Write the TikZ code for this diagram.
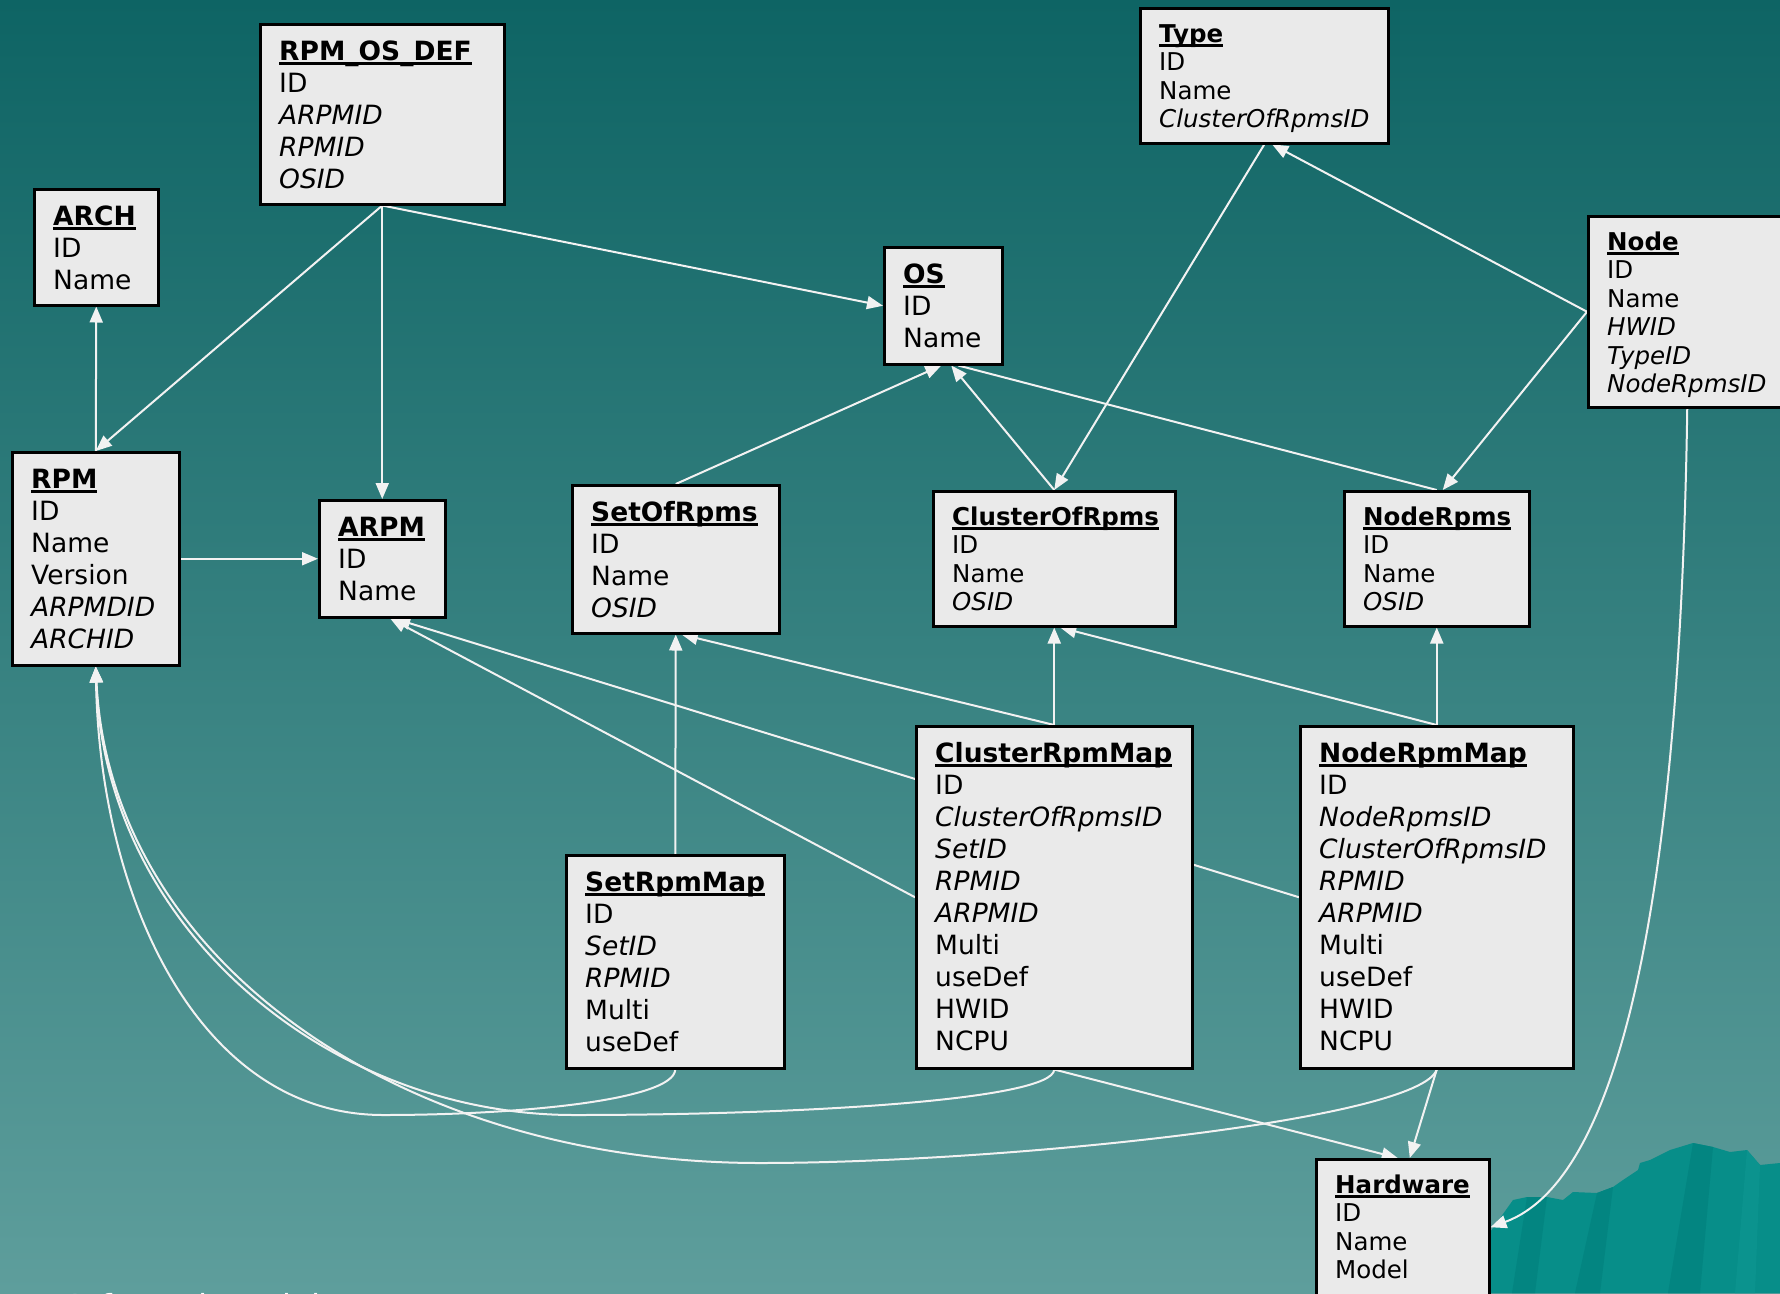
\documentclass[tikz,border=0pt]{standalone}
\usepackage{fontspec}
\setmainfont{DejaVu Sans}
\usetikzlibrary{arrows.meta,calc}

\definecolor{bgtop}{HTML}{0E6464}
\definecolor{bgbottom}{HTML}{5E9E9C}
\definecolor{boxgray}{HTML}{EAEAEA}
\definecolor{linkwhite}{HTML}{F2F2F2}
\definecolor{hill}{HTML}{078E89}
\definecolor{hilldark}{HTML}{038581}
\definecolor{hilllight}{HTML}{0B938E}

% bold, underlined table title; the zero-width rule fixes the first line height
\newcommand\ttl[1]{\rule{0pt}{22pt}\textbf{\setbox0\hbox{#1}\rlap{\rule[-4.5pt]{\wd0}{3pt}}\box0}}

\pgfdeclarelayer{back}
\pgfdeclarelayer{lines}
\pgfsetlayers{back,lines,main}

\tikzset{
  entity/.style={draw=black, line width=2.5pt, fill=boxgray, anchor=north west, inner sep=0pt},
  bigtxt/.style={anchor=north west, inner sep=0pt, align=left, text=black,
    font=\fontsize{26.5}{32}\selectfont},
  smalltxt/.style={anchor=north west, inner sep=0pt, align=left, text=black,
    font=\fontsize{24.5}{28.5}\selectfont},
  link/.style={draw=linkwhite, line width=2pt, -{Triangle[length=16pt,width=13pt]}},
  plainlink/.style={draw=linkwhite, line width=2pt},
}

\begin{document}
\begin{tikzpicture}[x=1pt,y=-1pt]
\useasboundingbox (0,0) rectangle (1780,1293);
\clip (0,0) rectangle (1780,1293);

% ---------- tables ----------
\node[entity, minimum width=244pt, minimum height=180pt] (rposdef) at (259,23) {};
\node[bigtxt] (rposdef-t) at ($(rposdef.north west)+(20,15)$)
  {\ttl{RPM\_OS\_DEF}\\ ID\\ \textit{ARPMID}\\ \textit{RPMID}\\ \textit{OSID}};

\node[entity, minimum width=124pt, minimum height=116pt] (arch) at (33,188) {};
\node[bigtxt] (arch-t) at ($(arch.north west)+(20,15)$) {\ttl{ARCH}\\ ID\\ Name};

\node[entity, minimum width=248pt, minimum height=135pt] (type) at (1139,7) {};
\node[smalltxt] (type-t) at ($(type.north west)+(20,13)$)
  {\ttl{Type}\\ ID\\ Name\\ \textit{ClusterOfRpmsID}};

\node[entity, minimum width=198pt, minimum height=191pt] (node) at (1587,215) {};
\node[smalltxt] (node-t) at ($(node.north west)+(20,13)$)
  {\ttl{Node}\\ ID\\ Name\\ \textit{HWID}\\ \textit{TypeID}\\ \textit{NodeRpmsID}};

\node[entity, minimum width=118pt, minimum height=117pt] (os) at (883,246) {};
\node[bigtxt] (os-t) at ($(os.north west)+(20,15)$) {\ttl{OS}\\ ID\\ Name};

\node[entity, minimum width=167pt, minimum height=213pt] (rpm) at (11,451) {};
\node[bigtxt] (rpm-t) at ($(rpm.north west)+(20,15)$)
  {\ttl{RPM}\\ ID\\ Name\\ Version\\ \textit{ARPMDID}\\ \textit{ARCHID}};

\node[entity, minimum width=126pt, minimum height=117pt] (arpm) at (318,499) {};
\node[bigtxt] (arpm-t) at ($(arpm.north west)+(20,15)$) {\ttl{ARPM}\\ ID\\ Name};

\node[entity, minimum width=207pt, minimum height=148pt] (setofrpms) at (571,484) {};
\node[bigtxt] (setofrpms-t) at ($(setofrpms.north west)+(20,15)$)
  {\ttl{SetOfRpms}\\ ID\\ Name\\ \textit{OSID}};

\node[entity, minimum width=242pt, minimum height=135pt] (clusterofrpms) at (932,490) {};
\node[smalltxt] (clusterofrpms-t) at ($(clusterofrpms.north west)+(20,13)$)
  {\ttl{ClusterOfRpms}\\ ID\\ Name\\ \textit{OSID}};

\node[entity, minimum width=185pt, minimum height=135pt] (noderpms) at (1343,490) {};
\node[smalltxt] (noderpms-t) at ($(noderpms.north west)+(20,13)$)
  {\ttl{NodeRpms}\\ ID\\ Name\\ \textit{OSID}};

\node[entity, minimum width=276pt, minimum height=342pt] (clusterrpmmap) at (915,725) {};
\node[bigtxt] (clusterrpmmap-t) at ($(clusterrpmmap.north west)+(20,15)$)
  {\ttl{ClusterRpmMap}\\ ID\\ \textit{ClusterOfRpmsID}\\ \textit{SetID}\\ \textit{RPMID}\\
   \textit{ARPMID}\\ Multi\\ useDef\\ HWID\\ NCPU};

\node[entity, minimum width=273pt, minimum height=342pt] (noderpmmap) at (1299,725) {};
\node[bigtxt] (noderpmmap-t) at ($(noderpmmap.north west)+(20,15)$)
  {\ttl{NodeRpmMap}\\ ID\\ \textit{NodeRpmsID}\\ \textit{ClusterOfRpmsID}\\ \textit{RPMID}\\
   \textit{ARPMID}\\ Multi\\ useDef\\ HWID\\ NCPU};

\node[entity, minimum width=218pt, minimum height=213pt] (setrpmmap) at (565,854) {};
\node[bigtxt] (setrpmmap-t) at ($(setrpmmap.north west)+(20,15)$)
  {\ttl{SetRpmMap}\\ ID\\ \textit{SetID}\\ \textit{RPMID}\\ Multi\\ useDef};

\node[entity, minimum width=173pt, minimum height=136pt] (hardware) at (1315,1158) {};
\node[smalltxt] (hardware-t) at ($(hardware.north west)+(20,13)$)
  {\ttl{Hardware}\\ ID\\ Name\\ Model};

% ---------- background and hills ----------
\begin{pgfonlayer}{back}
  \shade[top color=bgtop, bottom color=bgbottom] (0,0) rectangle (1780,1293);
  \fill[hill] (1470,1293) -- (1470,1250) -- (1488,1235) -- (1513,1200) -- (1527,1197)
    -- (1547,1197) -- (1563,1200) -- (1573,1192) -- (1597,1193) -- (1613,1187)
    -- (1623,1180) -- (1638,1170) -- (1640,1163) -- (1650,1160) -- (1670,1150)
    -- (1693,1143) -- (1713,1147) -- (1730,1152) -- (1747,1150) -- (1760,1165)
    -- (1780,1163) -- (1780,1293) -- cycle;
  \fill[hilldark] (1527,1197) -- (1547,1197) -- (1535,1293) -- (1512,1293) -- cycle;
  \fill[hilldark] (1597,1193) -- (1613,1187) -- (1600,1293) -- (1575,1293) -- cycle;
  \fill[hilldark] (1693,1143) -- (1713,1147) -- (1700,1293) -- (1668,1293) -- cycle;
  \fill[hilllight] (1747,1150) -- (1760,1165) -- (1755,1293) -- (1735,1293) -- cycle;
  \node[anchor=base west, inner sep=0pt, text=white, font=\fontsize{33}{40}\selectfont]
    (caption) at (70,1318) {Informal model};
\end{pgfonlayer}

% ---------- relations ----------
\begin{pgfonlayer}{lines}
  \draw[link] (rposdef.south) -- (os.west);
  \draw[link] (rposdef.south) -- (rpm.north);
  \draw[link] (rposdef.south) -- (arpm.north);
  \draw[link] (rpm.north) -- (arch.south);
  \draw[link] (rpm.east) -- (arpm.west);

  \draw[link] (setofrpms.north) -- ([xshift=-2pt]os.south);
  \draw[link] (clusterofrpms.north) -- ([xshift=8pt]os.south);
  \draw[plainlink] (noderpms.north) -- ([xshift=15pt]os.south);

  \draw[link] (type.south) -- (clusterofrpms.north);
  \draw[link] (node.west) -- ([xshift=8pt]type.south);
  \draw[link] (node.west) -- ([xshift=6pt]noderpms.north);
  \draw[link] (node.south) .. controls (1680,900) and (1620,1180) .. (hardware.east);

  \draw[link] (setrpmmap.north) -- (setofrpms.south);
  \draw[link] (clusterrpmmap.north) -- ([xshift=6pt]setofrpms.south);
  \draw[link] (clusterrpmmap.north) -- (clusterofrpms.south);
  \draw[link] (noderpmmap.north) -- ([xshift=6pt]clusterofrpms.south);
  \draw[link] (noderpmmap.north) -- (noderpms.south);

  \draw[link] (noderpmmap.west) -- ([xshift=12pt]arpm.south);
  \draw[link] (clusterrpmmap.west) -- ([xshift=8pt]arpm.south);

  \draw[link] (setrpmmap.south) .. controls (674,1100) and (520,1115) .. (383,1115)
    .. controls (200,1115) and (100,900) .. (rpm.south);
  \draw[link] (clusterrpmmap.south) .. controls (1053,1100) and (800,1115) .. (574,1115)
    .. controls (330,1115) and (105,930) .. (rpm.south);
  \draw[link] (noderpmmap.south) .. controls (1420,1120) and (1000,1163) .. (760,1163)
    .. controls (400,1163) and (110,960) .. (rpm.south);

  \draw[link] (clusterrpmmap.south) -- ([xshift=-5pt]hardware.north);
  \draw[link] (noderpmmap.south) -- ([xshift=7pt]hardware.north);
\end{pgfonlayer}
\end{tikzpicture}
\end{document}
